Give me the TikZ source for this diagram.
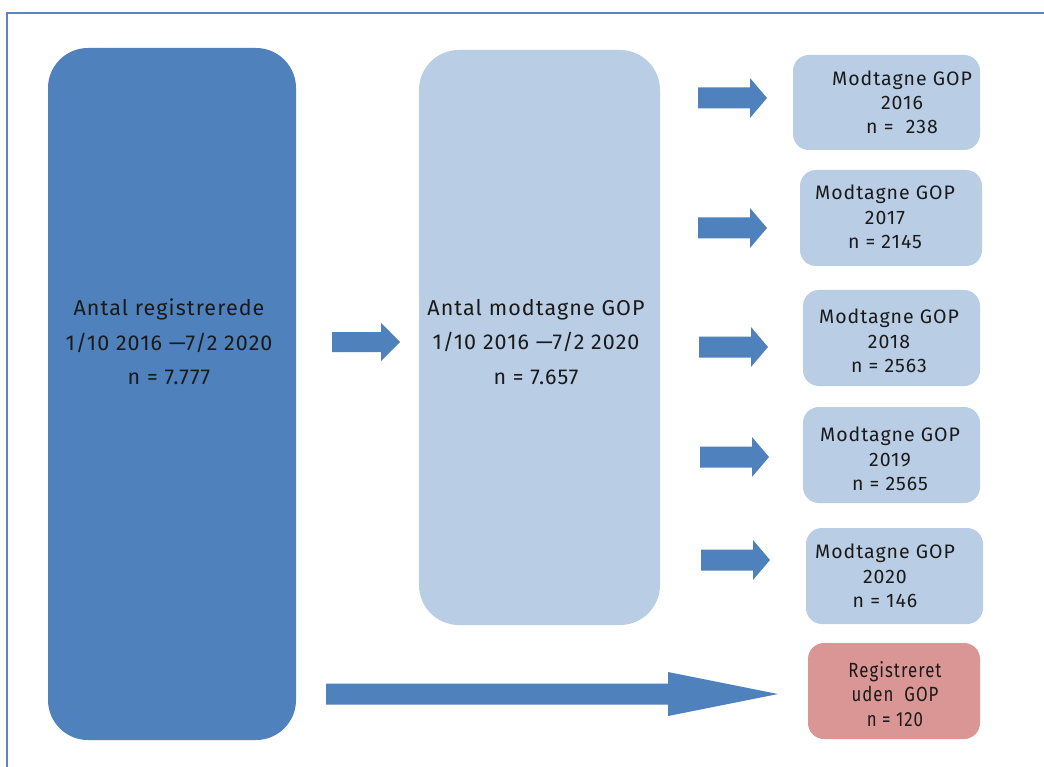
\documentclass[tikz,border=0pt]{standalone}
\usepackage{fontspec}
\setmainfont{Fira Sans}[LetterSpace=5]
\definecolor{darkbox}{HTML}{4F81BD}
\definecolor{lightbox}{HTML}{B9CDE5}
\definecolor{redbox}{HTML}{D99694}
\definecolor{framecol}{HTML}{5B86C2}
\definecolor{txt}{HTML}{1A1A1A}
\tikzset{
  bigbox/.style={rounded corners=40pt, inner sep=0pt},
  smallbox/.style={rounded corners=16pt, inner sep=0pt, fill=lightbox},
  boxtext/.style={align=center, text=txt, font=\fontsize{21.5}{34.5}\selectfont, inner sep=0pt},
  smalltext/.style={align=center, text=txt, font=\fontsize{19.5}{24.3}\selectfont, inner sep=0pt},
  narrowtext/.style={align=center, text=txt, font=\fontsize{20.5}{24.3}\selectfont\addfontfeature{FakeStretch=0.82}, inner sep=0pt},
  arrowfill/.style={fill=darkbox},
}
% block arrow: start x, shaft end x, tip x, centre y, shaft half height, head half height
\newcommand\blockarr[6]{%
  \fill[arrowfill] (#1,#4-#5) -- (#2,#4-#5) -- (#2,#4-#6) -- (#3,#4) -- (#2,#4+#6) -- (#2,#4+#5) -- (#1,#4+#5) -- cycle;}
\begin{document}
\begin{tikzpicture}[x=1pt,y=-1pt]
\useasboundingbox (0,0) rectangle (1044,767);
\fill[white] (0,0) rectangle (1044,767);
% frame
\draw[framecol, line width=1.5pt] (7,770) -- (7,13) -- (1050,13);
% big boxes
\node[bigbox, fill=darkbox, minimum width=248pt, minimum height=692pt] (reg) at (172,394) {};
\node[boxtext] (regtxt) at (169,342) {Antal registrerede\\1/10 2016 —7/2 2020\\n = 7.777};
\node[bigbox, fill=lightbox, minimum width=241pt, minimum height=575pt] (mod) at (539.5,337.5) {};
\node[boxtext] (modtxt) at (536,342) {Antal modtagne GOP\\1/10 2016 —7/2 2020\\n = 7.657};
% small boxes
\node[smallbox, minimum width=187pt, minimum height=95pt] (y16) at (886.5,102.5) {};
\node[smalltext] at (902,102.5) {Modtagne GOP\\2016\\n =\ \ 238};
\node[smallbox, minimum width=182pt, minimum height=96pt] (y17) at (891,218) {};
\node[smalltext] at (885,217) {Modtagne GOP\\2017\\n = 2145};
\node[smallbox, minimum width=177pt, minimum height=96pt] (y18) at (891.5,338) {};
\node[smalltext] at (889,341) {Modtagne GOP\\2018\\n = 2563};
\node[smallbox, minimum width=177pt, minimum height=96pt] (y19) at (891.5,455) {};
\node[smalltext] at (890,459) {Modtagne GOP\\2019\\n = 2565};
\node[smallbox, minimum width=177pt, minimum height=96pt] (y20) at (894.5,576) {};
\node[smalltext] at (885,576) {Modtagne GOP\\2020\\n = 146};
\node[smallbox, fill=redbox, minimum width=172pt, minimum height=96pt] (uden) at (894,691) {};
\node[narrowtext] at (895,694) {Registreret\\uden\ \ GOP\\n = 120};
% arrows
\blockarr{332}{381}{400}{342}{10}{19}
\blockarr{698}{750}{767}{98}{10.5}{20}
\blockarr{698}{750}{767}{228}{10.5}{20}
\blockarr{699}{751}{768}{347}{10.5}{20}
\blockarr{700}{752}{769}{457}{10.5}{20}
\blockarr{701}{753}{770}{560}{10.5}{20}
\blockarr{326}{668}{778}{694}{10.5}{22}
\end{tikzpicture}
\end{document}
